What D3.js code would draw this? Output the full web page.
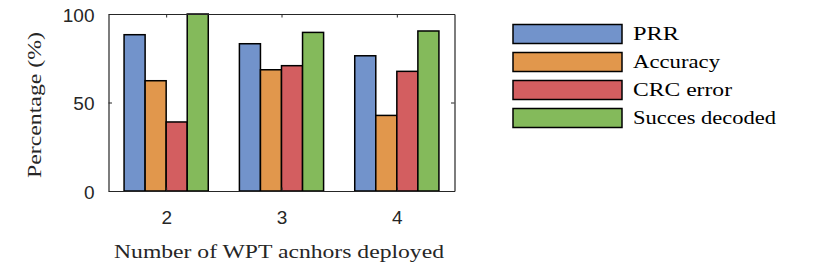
<!DOCTYPE html>
<html><head><meta charset="utf-8">
<script src="https://cdn.jsdelivr.net/npm/d3@7"></script>
<style>html,body{margin:0;padding:0;background:#fff;} svg{display:block;}</style>
</head><body>
<svg id="chart" width="830" height="279"></svg>
<script>
const categories = [2, 3, 4];
const seriesNames = ["PRR", "Accuracy", "CRC error", "Succes decoded"];
const prr = [88.3, 83.2, 76.4];
const accuracy = [62.3, 68.5, 42.7];
const crcError = [39.0, 70.8, 67.6];
const successDecoded = [100, 89.6, 90.4];
const yTicks = [0, 50, 100];
const colors = ["#7293CB", "#E1974C", "#D35E60", "#84BA5B"];

const seriesValues = [prr, accuracy, crcError, successDecoded];

const svg = d3.select("#chart");
const L = 108.5, R = 454.5, T = 14, B = 191;
const x = d3.scaleLinear().domain([1.5, 4.5]).range([L, R]);
const y = d3.scaleLinear().domain([0, 100]).range([B, T]);
const sub = d3.scaleBand().domain(d3.range(seriesNames.length)).range([-0.365, 0.365]);

const serif = "'Liberation Serif', 'Times New Roman', serif";
const sans = "'Liberation Sans', Arial, sans-serif";
const axisColor = "#262626";

// bars
const data = [];
categories.forEach((c, ci) => seriesValues.forEach((vals, si) => data.push({c, si, v: vals[ci]})));
svg.append("g").selectAll("rect").data(data).join("rect")
  .attr("x", d => x(d.c + sub(d.si)))
  .attr("width", d => x(d.c + sub(d.si) + sub.bandwidth()) - x(d.c + sub(d.si)))
  .attr("y", d => y(d.v))
  .attr("height", d => y(0) - y(d.v))
  .attr("fill", d => colors[d.si])
  .attr("stroke", "#000")
  .attr("stroke-width", 1.5);

// axes
function styleAxis(g, showLabels) {
  g.select(".domain").attr("stroke", axisColor).attr("stroke-width", 1.2);
  g.selectAll(".tick line").attr("stroke", axisColor).attr("stroke-width", 1);
  if (!showLabels) g.selectAll(".tick text").remove();
  else g.selectAll(".tick text").attr("fill", axisColor).attr("font-family", sans).attr("font-size", 19);
}
const ax = svg.append("g").attr("transform", `translate(0,${B})`)
  .call(d3.axisBottom(x).tickValues(categories).tickSizeInner(-3.5).tickSizeOuter(0).tickPadding(20).tickFormat(d3.format("d")));
styleAxis(ax, true);
ax.selectAll(".tick text").attr("dy", "0.71em");
const axT = svg.append("g").attr("transform", `translate(0,${T})`)
  .call(d3.axisTop(x).tickValues(categories).tickSizeInner(-3.5).tickSizeOuter(0));
styleAxis(axT, false);
const ay = svg.append("g").attr("transform", `translate(${L},0)`)
  .call(d3.axisLeft(y).tickValues(yTicks).tickSizeInner(-3.5).tickSizeOuter(0).tickPadding(14));
styleAxis(ay, true);
ay.selectAll(".tick text").attr("dy", "0.37em");
const ayR = svg.append("g").attr("transform", `translate(${R},0)`)
  .call(d3.axisRight(y).tickValues(yTicks).tickSizeInner(-3.5).tickSizeOuter(0));
styleAxis(ayR, false);

// axis labels
svg.append("text").attr("x", 279).attr("y", 258)
  .attr("text-anchor", "middle").attr("font-family", serif).attr("font-size", 19)
  .attr("fill", axisColor).attr("textLength", 330).attr("lengthAdjust", "spacingAndGlyphs")
  .text("Number of WPT acnhors deployed");
svg.append("text").attr("transform", `translate(41,105) rotate(-90)`)
  .attr("text-anchor", "middle").attr("font-family", serif).attr("font-size", 19)
  .attr("fill", axisColor).attr("textLength", 146).attr("lengthAdjust", "spacingAndGlyphs")
  .text("Percentage (%)");

// legend
const legendWidths = [46, 87, 99, 143];
const lg = svg.append("g");
seriesNames.forEach((name, i) => {
  const cy = 34 + i * 28;
  lg.append("rect").attr("x", 513).attr("y", cy - 9.5).attr("width", 109).attr("height", 19)
    .attr("fill", colors[i]).attr("stroke", "#000").attr("stroke-width", 1.5);
  lg.append("text").attr("x", 633).attr("y", cy + 6)
    .attr("font-family", serif).attr("font-size", 19).attr("fill", "#000")
    .attr("textLength", legendWidths[i]).attr("lengthAdjust", "spacingAndGlyphs")
    .text(name);
});
</script>
</body></html>
